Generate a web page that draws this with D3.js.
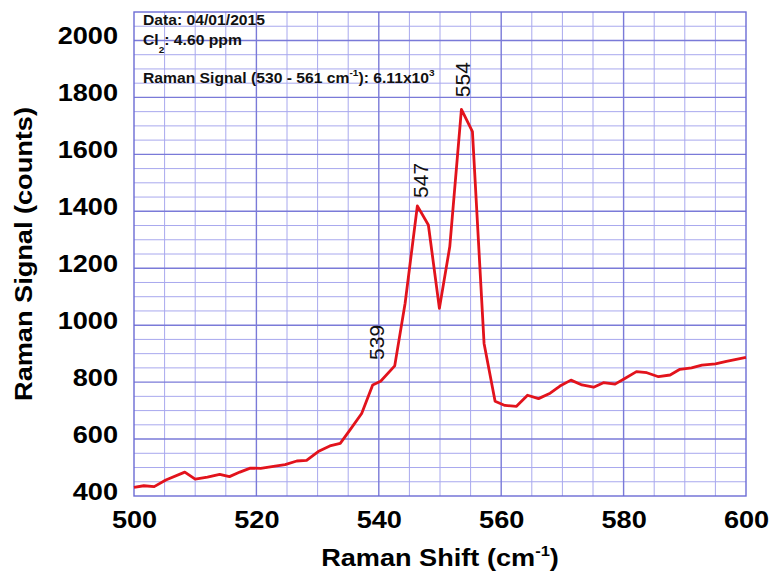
<!DOCTYPE html>
<html>
<head>
<meta charset="utf-8">
<script src="https://cdn.jsdelivr.net/npm/d3@7"></script>
<style>
    body { margin: 0; background: #fff; }
    text { font-family: "Liberation Sans", Arial, sans-serif; }
</style>
</head>
<body>
<svg width="769" height="581"></svg>
<script>
// spectrum
const shift = [500, 501.6, 503.3, 505.2, 508.3, 510, 512, 514, 515.6, 517.3, 519, 520.7,
    522.8, 524.7, 526.6, 528.2, 530.1, 532, 533.7, 535.3, 537.2, 539, 540.3, 542.6,
    544.3, 546.3, 548.1, 549.9, 551.6, 553.5, 555.3, 557.2, 559, 560.6, 562.5, 564.3,
    566.1, 568, 569.6, 571.4, 573.2, 575.1, 576.7, 578.6, 580.2, 582.1, 583.8, 585.7,
    587.6, 589.2, 591.1, 592.8, 595, 596.8, 600];
const signal = [430, 436, 433, 456, 484, 459, 466, 476, 468, 484, 498, 497,
    504, 510, 523, 525, 556, 576, 585, 632, 690, 790, 803, 857,
    1077, 1419, 1352, 1059, 1276, 1758, 1680, 936, 733, 718, 715, 754,
    742, 761, 786, 807, 790, 782, 798, 793, 813, 837, 833, 819,
    825, 845, 850, 860, 864, 873, 887];

const xTicks = [500, 520, 540, 560, 580, 600];
const yTicks = [400, 600, 800, 1000, 1200, 1400, 1600, 1800, 2000];

const peakNames = ["539", "547", "554"];
const peakX = [540.85, 548.0, 554.9];
const peakY = [878, 1447, 1801];

let w = 769;
let h = 581;
let m = {top: 12, right: 23, bottom: 85, left: 134};
let stretch = 1.18;

let svg = d3.select("svg");

let xScale = d3.scaleLinear().domain([500, 600]).range([m.left, w - m.right]);
let yScale = d3.scaleLinear().domain([400, 2100]).range([h - m.bottom, m.top]);

let x0 = xScale.range()[0], x1 = xScale.range()[1];
let y0 = yScale.range()[0], y1 = yScale.range()[1];

// grid: minor every 5 / 50, major every 20 / 200
let grid = svg.append("g");
grid.selectAll(".vmin")
    .data(d3.range(505, 600, 5).filter(v => v % 20 != 0))
    .enter().append("line")
    .attr("x1", d => xScale(d)).attr("x2", d => xScale(d))
    .attr("y1", y0).attr("y2", y1)
    .attr("stroke", "#a8a8ee").attr("stroke-width", 1);
grid.selectAll(".hmin")
    .data(d3.range(450, 2100, 50).filter(v => v % 200 != 0))
    .enter().append("line")
    .attr("x1", x0).attr("x2", x1)
    .attr("y1", d => yScale(d)).attr("y2", d => yScale(d))
    .attr("stroke", "#a8a8ee").attr("stroke-width", 1);
grid.selectAll(".vmaj")
    .data(xTicks.slice(1, -1))
    .enter().append("line")
    .attr("x1", d => xScale(d)).attr("x2", d => xScale(d))
    .attr("y1", y0).attr("y2", y1)
    .attr("stroke", "#7a7ad8").attr("stroke-width", 1.4);
grid.selectAll(".hmaj")
    .data(yTicks.slice(1))
    .enter().append("line")
    .attr("x1", x0).attr("x2", x1)
    .attr("y1", d => yScale(d)).attr("y2", d => yScale(d))
    .attr("stroke", "#7a7ad8").attr("stroke-width", 1.4);

svg.append("rect")
    .attr("x", x0).attr("y", y1)
    .attr("width", x1 - x0).attr("height", y0 - y1)
    .attr("fill", "none")
    .attr("stroke", "#6c6cd4")
    .attr("stroke-width", 1.4);

// axes (labels only, the grid does the rest)
let xAxis = d3.axisBottom(xScale).tickValues(xTicks).tickSize(0).tickFormat(d3.format("d"));
let gx = svg.append("g")
    .attr("transform", "translate(0," + y0 + ")")
    .call(xAxis);
gx.select(".domain").remove();
gx.selectAll("text")
    .attr("y", null).attr("dy", null)
    .attr("transform", "translate(0,32) scale(" + stretch + ",1)")
    .attr("font-size", 23).attr("font-weight", "bold")
    .attr("font-family", "Liberation Sans, Arial, sans-serif")
    .attr("fill", "#000");

let yAxis = d3.axisLeft(yScale).tickValues(yTicks).tickSize(0).tickFormat(d3.format("d"));
let gy = svg.append("g")
    .attr("transform", "translate(" + x0 + ",0)")
    .call(yAxis);
gy.select(".domain").remove();
gy.selectAll("text")
    .attr("x", null).attr("dy", null)
    .attr("transform", "translate(-16,3) scale(" + stretch + ",1)")
    .attr("font-size", 23).attr("font-weight", "bold")
    .attr("font-family", "Liberation Sans, Arial, sans-serif")
    .attr("fill", "#000");

// the spectrum
let line = d3.line()
    .x((d, i) => xScale(shift[i]))
    .y(d => yScale(d));
svg.append("path")
    .datum(signal)
    .attr("d", line)
    .attr("fill", "none")
    .attr("stroke", "#e2131c")
    .attr("stroke-width", 2.8)
    .attr("stroke-linejoin", "round");

// peak labels
svg.selectAll(".peak")
    .data(peakNames)
    .enter().append("text")
    .attr("transform", (d, i) => "translate(" + xScale(peakX[i]) + "," + yScale(peakY[i]) + ") rotate(-90)")
    .attr("font-size", 21)
    .attr("fill", "#111")
    .text(d => d);

// titles
let xt = svg.append("text")
    .attr("transform", "translate(" + ((x0 + x1) / 2) + ",566) scale(" + stretch + ",1)")
    .attr("text-anchor", "middle")
    .attr("font-size", 23).attr("font-weight", "bold");
xt.append("tspan").text("Raman Shift (cm");
xt.append("tspan").attr("font-size", 14).attr("dy", -10).text("-1");
xt.append("tspan").attr("dy", 10).text(")");

svg.append("text")
    .attr("transform", "translate(32," + ((y0 + y1) / 2) + ") rotate(-90) scale(" + stretch + ",1)")
    .attr("text-anchor", "middle")
    .attr("font-size", 23).attr("font-weight", "bold")
    .text("Raman Signal (counts)");

// info box text
let note = svg.append("g")
    .attr("font-size", 14).attr("font-weight", "bold").attr("fill", "#111");
note.append("text")
    .attr("transform", "translate(143,25) scale(1.12,1)")
    .text("Data: 04/01/2015");
let cl = note.append("text")
    .attr("transform", "translate(143,45) scale(1.12,1)");
cl.append("tspan").text("Cl");
cl.append("tspan").attr("font-size", 9).attr("dy", 8).text("2");
cl.append("tspan").attr("dy", -8).text(": 4.60 ppm");
let rs = note.append("text")
    .attr("transform", "translate(143,83) scale(1.12,1)");
rs.append("tspan").text("Raman Signal (530 - 561 cm");
rs.append("tspan").attr("font-size", 9).attr("dy", -7).text("-1");
rs.append("tspan").attr("dy", 7).text("): 6.11x10");
rs.append("tspan").attr("font-size", 9).attr("dy", -7).text("3");
</script>
</body>
</html>
